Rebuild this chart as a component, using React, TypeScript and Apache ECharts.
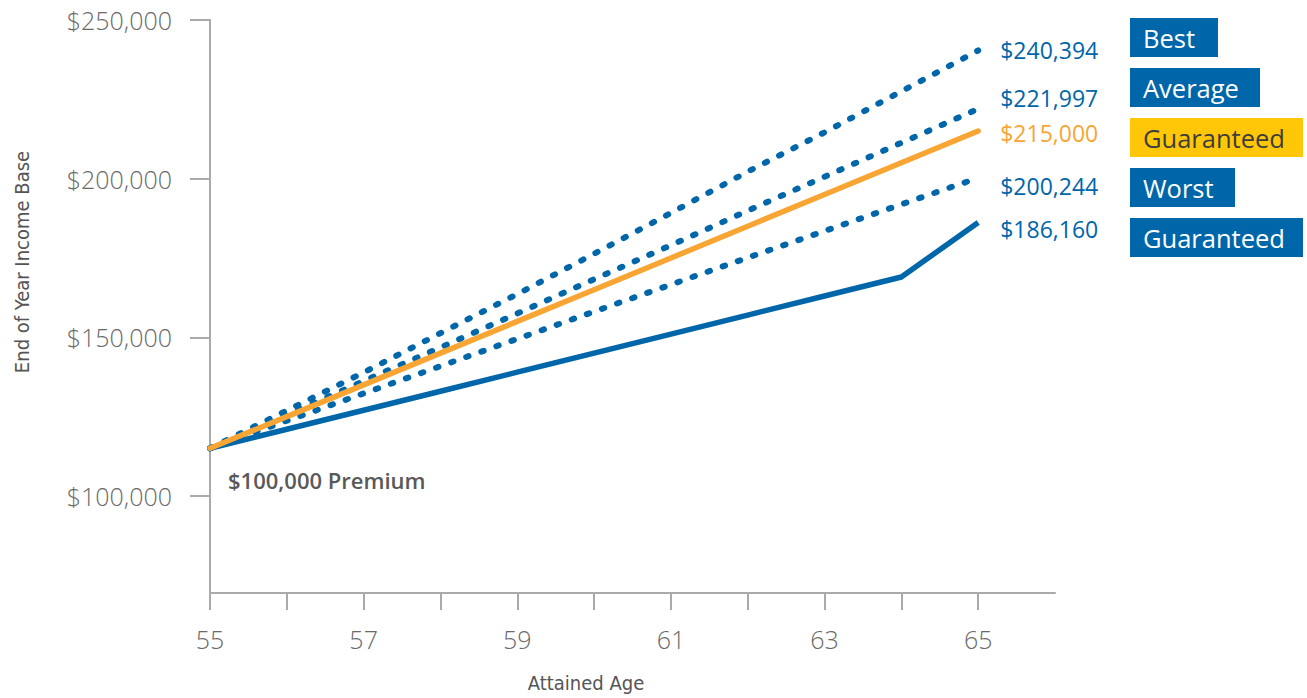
import React, { useEffect, useRef } from "react";
import * as echarts from "echarts";

const ages = [55, 56, 57, 58, 59, 60, 61, 62, 63, 64, 65];
const bestValues = [115000, 126900, 138900, 151300, 163600, 176300, 189200, 202200, 214600, 227500, 240394];
const averageValues = [115000, 125500, 136200, 146800, 157500, 168300, 179000, 189900, 200600, 211300, 221997];
const guaranteedValues = [115000, 125000, 135000, 145000, 155000, 165000, 175000, 185000, 195000, 205000, 215000];
const worstValues = [115000, 123700, 132300, 140900, 149500, 158100, 166600, 175100, 183500, 191900, 200244];
const guaranteedBaseValues = [115000, 121000, 127000, 133000, 139000, 145000, 151000, 157000, 163000, 169000, 186160];

const yTickValues = [100000, 150000, 200000, 250000];
const xTickValues = [55, 56, 57, 58, 59, 60, 61, 62, 63, 64, 65];
const xLabelValues = [55, 57, 59, 61, 63, 65];

const legendItems = [
  { label: "Best", width: 88, bg: "#0066AA", fg: "#ffffff" },
  { label: "Average", width: 130, bg: "#0066AA", fg: "#ffffff" },
  { label: "Guaranteed", width: 173, bg: "#FFC708", fg: "#3d3d3d" },
  { label: "Worst", width: 105, bg: "#0066AA", fg: "#ffffff" },
  { label: "Guaranteed", width: 173, bg: "#0066AA", fg: "#ffffff" },
];

const BLUE = "#0066AA";
const ORANGE = "#F9A533";
const FONT = "'Open Sans', 'Noto Sans', sans-serif";
const NARROW = "'Liberation Sans Narrow', 'DejaVu Sans Condensed', sans-serif";

const fmt = (v: number) => "$" + v.toLocaleString("en-US");

export default function App() {
  const ref = useRef<HTMLDivElement>(null);
  useEffect(() => {
    if (!ref.current) return;
    const chart = echarts.init(ref.current, undefined, { renderer: "svg" });
    const pair = (vals: number[]) => ages.map((a, i) => [a, vals[i]]);
    const dotted = { type: [2.5, 13.5] as any, width: 6, cap: "round" as const, color: BLUE };
    const endLabel = (vals: number[], color: string, dy: number) => ({
      show: true,
      formatter: fmt(vals[vals.length - 1]),
      color,
      fontSize: 23,
      fontFamily: FONT,
      distance: 22,
      offset: [0, dy],
    });
    const graphics: any[] = [];
    legendItems.forEach((it, i) => {
      graphics.push({
        type: "rect",
        left: 1130,
        top: 18 + i * 50,
        shape: { width: it.width, height: 39 },
        style: { fill: it.bg },
        silent: true,
      });
      graphics.push({
        type: "text",
        x: 1143,
        y: 38 + i * 50,
        style: { text: it.label, fill: it.fg, font: `25.5px ${FONT}`, verticalAlign: "middle" },
        silent: true,
      });
    });
    graphics.push({
      type: "text",
      x: 228,
      y: 480,
      style: { text: "$100,000 Premium", fill: "#595959", font: `600 22px ${FONT}`, verticalAlign: "middle" },
    });
    graphics.push({
      type: "text",
      x: 586,
      y: 683,
      style: {
        text: "Attained Age",
        fill: "#555",
        font: `20px ${NARROW}`,
        align: "center",
        verticalAlign: "middle",
      },
    });
    graphics.push({
      type: "text",
      x: 22,
      y: 262,
      rotation: Math.PI / 2,
      style: {
        text: "End of Year Income Base",
        fill: "#555",
        font: `20px ${NARROW}`,
        align: "center",
        verticalAlign: "middle",
      },
    });
    chart.setOption({
      animation: false,
      grid: { left: 210, right: 252, top: 20, bottom: 105, containLabel: false },
      xAxis: {
        type: "value",
        min: 55,
        max: 66,
        interval: 1,
        axisLine: { lineStyle: { color: "#aaaaaa", width: 2 } },
        axisTick: { show: true, length: 17, customValues: xTickValues, lineStyle: { color: "#aaaaaa", width: 2 } },
        axisLabel: {
          customValues: xLabelValues,
          color: "#6a6a6a",
          fontSize: 25,
          fontWeight: 300,
          fontFamily: FONT,
          margin: 33,
        },
        splitLine: { show: false },
      },
      yAxis: {
        type: "value",
        min: 69400,
        max: 250000,
        axisLine: { show: true, lineStyle: { color: "#aaaaaa", width: 2 } },
        axisTick: { show: true, length: 20, customValues: yTickValues, lineStyle: { color: "#aaaaaa", width: 2 } },
        axisLabel: {
          customValues: yTickValues,
          formatter: (v: number) => fmt(v),
          color: "#6a6a6a",
          fontSize: 25,
          fontWeight: 300,
          fontFamily: FONT,
          margin: 38,
        },
        splitLine: { show: false },
      },
      series: [
        {
          type: "line",
          data: pair(guaranteedBaseValues),
          symbol: "none",
          lineStyle: { color: BLUE, width: 5.5 },
          endLabel: endLabel(guaranteedBaseValues, BLUE, 6),
        },
        {
          type: "line",
          data: pair(worstValues),
          symbol: "none",
          lineStyle: dotted,
          endLabel: endLabel(worstValues, BLUE, 8),
        },
        {
          type: "line",
          data: pair(averageValues),
          symbol: "none",
          lineStyle: dotted,
          endLabel: endLabel(averageValues, BLUE, -11),
        },
        {
          type: "line",
          data: pair(bestValues),
          symbol: "none",
          lineStyle: dotted,
          endLabel: endLabel(bestValues, BLUE, 0),
        },
        {
          type: "line",
          data: pair(guaranteedValues),
          symbol: "none",
          lineStyle: { color: ORANGE, width: 5.5, cap: "round" },
          endLabel: endLabel(guaranteedValues, ORANGE, 2),
        },
      ],
      graphic: graphics,
    });
    return () => chart.dispose();
  }, []);
  return (
    <div
      ref={ref}
      style={{ position: "fixed", left: 0, top: 0, width: 1307, height: 698, background: "#fff" }}
    />
  );
}
